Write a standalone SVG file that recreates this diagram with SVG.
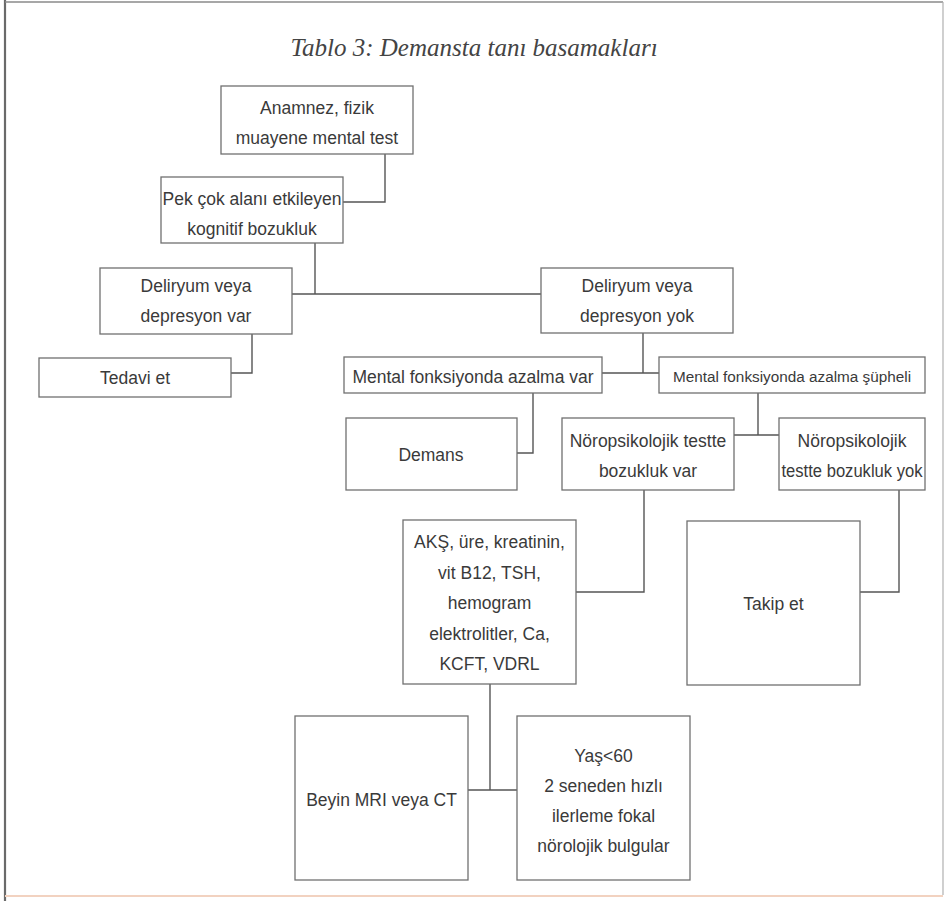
<svg xmlns="http://www.w3.org/2000/svg" width="948" height="901" viewBox="0 0 948 901">
<style>
.box{fill:#fff;stroke:#707070;stroke-width:1.3}
.t{font-family:"Liberation Sans",Arial,sans-serif;font-size:17.5px;fill:#3a3a3a;text-anchor:middle}
.s{font-size:15.3px}
.conn path{stroke:#555;stroke-width:1.4;fill:none}
.title{font-family:"Liberation Serif","Times New Roman",serif;font-style:italic;font-size:25px;fill:#444;text-anchor:middle}
</style>
<rect width="948" height="901" fill="#fff"/>
<g id="frame" fill="none">
<path d="M5 0V901" stroke="#6a6a6a" stroke-width="2.2"/>
<path d="M5 2H943" stroke="#8a8a8a" stroke-width="1.6"/>
<path d="M943 2V895" stroke="#b0b0b0" stroke-width="1.2"/>
<path d="M5 896H943" stroke="#f2d2c0" stroke-width="2"/>
</g>
<text class="title" x="474" y="56">Tablo 3: Demansta tanı basamakları</text>
<g class="conn" id="connectors">
<path d="M385 154V202H343"/>
<path d="M315 243V294"/>
<path d="M292 294H541"/>
<path d="M252 334V373H231"/>
<path d="M643 333V373"/>
<path d="M602 373H659"/>
<path d="M533 393V453H517"/>
<path d="M758 393V435"/>
<path d="M734 435H779"/>
<path d="M644 490V592H576"/>
<path d="M899 490V592H860"/>
<path d="M490 684V790"/>
<path d="M468 790H517"/>
</g>
<g id="n1"><rect class="box" x="221" y="86" width="192" height="68"/>
<text class="t" x="317" y="114">Anamnez, fizik</text><text class="t" x="317" y="144">muayene mental test</text></g>
<g id="n2"><rect class="box" x="161" y="177" width="182" height="66"/>
<text class="t" x="252" y="205">Pek çok alanı etkileyen</text><text class="t" x="252" y="235">kognitif bozukluk</text></g>
<g id="n3"><rect class="box" x="100" y="268" width="192" height="66"/>
<text class="t" x="196" y="292">Deliryum veya</text><text class="t" x="196" y="322">depresyon var</text></g>
<g id="n4"><rect class="box" x="541" y="268" width="192" height="65"/>
<text class="t" x="637" y="292">Deliryum veya</text><text class="t" x="637" y="322">depresyon yok</text></g>
<g id="n5"><rect class="box" x="39" y="358" width="192" height="39"/>
<text class="t" x="135" y="384">Tedavi et</text></g>
<g id="n6"><rect class="box" x="344" y="357" width="258" height="36"/>
<text class="t" x="473" y="383">Mental fonksiyonda azalma var</text></g>
<g id="n7"><rect class="box" x="659" y="357" width="266" height="36"/>
<text class="t s" x="792" y="382">Mental fonksiyonda azalma şüpheli</text></g>
<g id="n8"><rect class="box" x="346" y="418" width="171" height="72"/>
<text class="t" x="431" y="461">Demans</text></g>
<g id="n9"><rect class="box" x="562" y="418" width="172" height="72"/>
<text class="t" x="648" y="447">Nöropsikolojik testte</text><text class="t" x="648" y="477">bozukluk var</text></g>
<g id="n10"><rect class="box" x="779" y="418" width="146" height="72"/>
<text class="t" x="852" y="447">Nöropsikolojik</text><text class="t" x="852" y="477" textLength="141" lengthAdjust="spacingAndGlyphs">testte bozukluk yok</text></g>
<g id="n11"><rect class="box" x="403" y="520" width="173" height="164"/>
<text class="t" x="489.5" y="548">AKŞ, üre, kreatinin,</text>
<text class="t" x="489.5" y="578.5">vit B12, TSH,</text>
<text class="t" x="489.5" y="609">hemogram</text>
<text class="t" x="489.5" y="639.5">elektrolitler, Ca,</text>
<text class="t" x="489.5" y="670">KCFT, VDRL</text></g>
<g id="n12"><rect class="box" x="687" y="521" width="173" height="164"/>
<text class="t" x="773.5" y="610">Takip et</text></g>
<g id="n13"><rect class="box" x="295" y="716" width="173" height="164"/>
<text class="t" x="381.5" y="806">Beyin MRI veya CT</text></g>
<g id="n14"><rect class="box" x="517" y="716" width="173" height="164"/>
<text class="t" x="603.5" y="762">Yaş&lt;60</text>
<text class="t" x="603.5" y="792">2 seneden hızlı</text>
<text class="t" x="603.5" y="822">ilerleme fokal</text>
<text class="t" x="603.5" y="852">nörolojik bulgular</text></g>
</svg>
